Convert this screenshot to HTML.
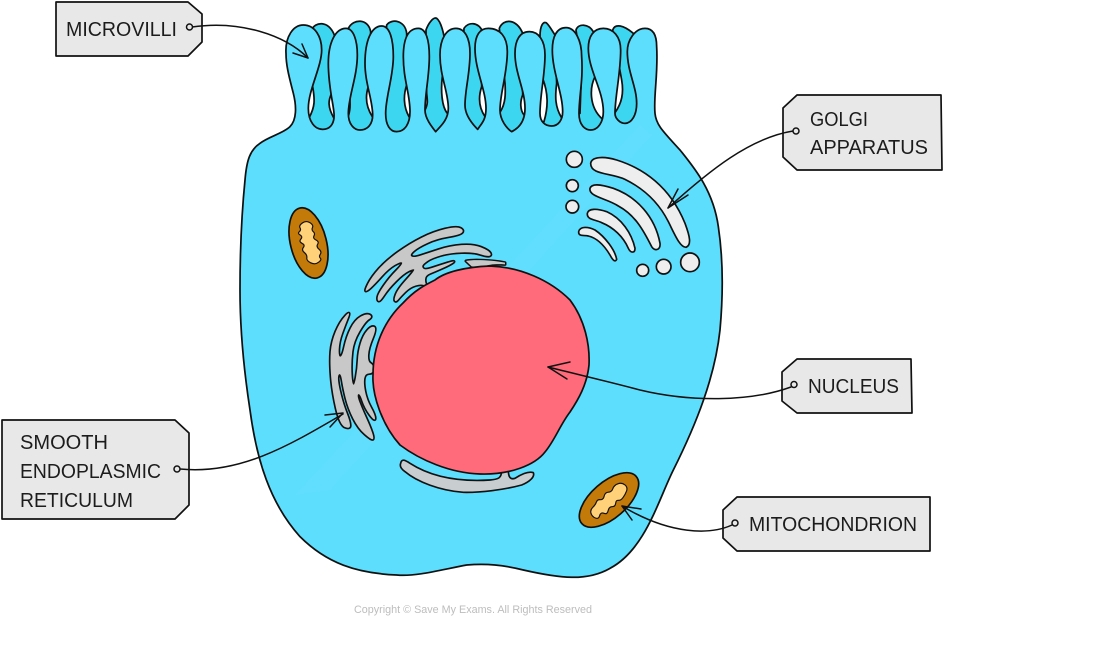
<!DOCTYPE html>
<html>
<head>
<meta charset="utf-8">
<style>
html,body{margin:0;padding:0;background:#fff;width:1100px;height:646px;overflow:hidden}
svg{display:block}
.lbl{font-family:"Liberation Sans",sans-serif;font-size:20px;fill:#1c1c1c}
.tag{fill:#e8e8e8;stroke:#111;stroke-width:1.7;stroke-linejoin:round}
.ln{fill:none;stroke:#111;stroke-width:1.5;stroke-linecap:round;stroke-linejoin:round}
.dot{fill:#e8e8e8;stroke:#111;stroke-width:1.5}
</style>
</head>
<body>
<svg width="1100" height="646" viewBox="0 0 1100 646" xmlns="http://www.w3.org/2000/svg">
<rect width="1100" height="646" fill="#fff"/>

<!-- microvilli dark + body -->
<g transform="translate(240,0) scale(.33333)" stroke="#111" stroke-width="5.2" stroke-linejoin="round">
  <g fill="#3dd6f0">
    <path d="M215,90 C225,65 265,60 283,105 L275,280 C265,300 262,320 282,355 L300,365 L300,420 L190,420 L190,365 L208,352 C225,320 225,300 218,260 Z"/>
    <path d="M325,85 C340,55 385,55 392,95 L385,260 C375,290 378,320 397,350 L415,360 L415,420 L305,420 L305,360 L326,345 C332,325 330,315 330,300 Z"/>
    <path d="M440,75 C455,55 495,60 500,100 L500,255 C490,285 490,320 507,350 L525,360 L525,420 L420,420 L420,340 Z"/>
    <path d="M558,90 C565,70 580,50 590,55 C603,65 612,100 615,130 L607,230 C602,270 605,320 622,340 L640,350 L640,420 L535,420 L535,340 L555,330 C565,310 562,300 560,280 Z"/>
    <path d="M672,85 C685,65 715,65 728,95 L725,260 C715,290 715,320 735,350 L755,360 L755,420 L660,420 L660,310 Z"/>
    <path d="M778,85 C790,55 830,55 848,100 L848,285 C840,305 840,330 852,345 L872,355 L872,420 L760,420 L760,340 L781,335 C797,310 797,280 795,250 Z"/>
    <path d="M900,110 C900,75 910,65 918,68 C925,72 935,90 945,105 L950,250 C945,290 945,320 964,352 L985,360 L985,420 L885,420 L885,365 L912,365 C925,320 925,280 908,235 Z"/>
    <path d="M1008,90 C1015,70 1045,70 1060,95 L1065,230 C1050,260 1045,320 1087,357 L1105,365 L1105,420 L1000,420 L1000,340 L1020,340 L1025,200 Z"/>
    <path d="M1118,90 C1125,70 1150,75 1180,100 L1200,320 L1200,400 L1105,400 L1105,345 L1125,338 C1145,310 1152,280 1145,240 Z"/>
  </g>
  <path fill="#5edefd" d="M138,160 C135,110 160,75 190,75 C225,75 245,110 245,150 C245,200 205,270 205,325 C205,365 225,388 248,388 C275,388 284,365 282,340 C280,310 265,260 265,190 C265,130 285,85 318,85 C340,85 352,120 352,165 C352,230 325,290 325,340 C325,370 340,390 360,390 C385,390 398,370 398,345 C398,300 375,250 375,190 C375,120 395,78 425,78 C450,78 460,120 460,170 C460,230 437,290 437,340 C437,375 450,395 470,395 C495,395 510,370 510,335 C510,280 490,240 490,170 C490,115 505,85 535,85 C558,85 568,120 568,170 C568,230 555,280 555,330 C555,355 575,380 587,395 C600,380 625,360 625,325 C625,275 600,230 600,165 C600,115 620,85 648,85 C675,85 690,115 690,160 C690,220 675,270 675,315 C675,345 695,370 713,388 C725,370 738,360 738,325 C738,270 705,210 705,145 C705,105 720,85 745,85 C780,85 802,110 802,155 C802,220 780,280 780,330 C780,360 800,385 815,395 C835,385 855,365 855,325 C855,270 825,220 825,160 C825,120 840,95 868,95 C895,95 915,120 915,165 C915,225 900,285 900,340 C900,365 915,378 935,378 C955,378 968,360 968,335 C968,280 937,215 937,150 C937,110 950,83 978,83 C1005,83 1025,120 1025,170 C1030,240 1017,290 1017,340 C1017,375 1035,390 1052,390 C1075,390 1090,365 1090,335 C1090,270 1045,210 1045,145 C1045,110 1060,85 1090,85 C1120,85 1142,110 1142,150 C1142,220 1125,290 1125,340 C1125,355 1140,370 1155,370 C1175,370 1190,345 1190,310 C1190,260 1162,215 1162,155 C1162,120 1185,85 1215,85 C1240,85 1250,105 1250,140 C1255,220 1240,290 1245,340 C1248,375 1270,395 1320,450 C1360,500 1420,570 1435,680 C1450,780 1450,880 1440,990 C1425,1130 1370,1270 1300,1410 C1255,1500 1215,1650 1110,1705 C1040,1745 960,1735 850,1710 C790,1695 740,1690 680,1695 C600,1710 530,1730 470,1725 C350,1720 260,1690 180,1610 C90,1510 50,1380 30,1230 C10,1100 0,980 0,870 C0,760 5,640 15,540 C20,480 30,450 60,430 C85,410 130,400 150,380 C170,360 170,320 160,280 C150,240 138,200 138,160 Z"/>
</g>

<!-- faint streak -->
<polygon points="295,495 640,125 652,135 330,490" fill="#fff" opacity=".02"/>

<!-- golgi -->
<g transform="translate(560,140) scale(.33333)" fill="#eeeeee" stroke="#111" stroke-width="5" stroke-linejoin="round">
  <path d="M92,70 C95,50 130,48 170,60 C250,85 330,140 375,250 C390,290 395,315 378,322 C360,322 345,285 325,245 C300,195 260,150 195,118 C150,98 92,105 92,70 Z"/>
  <path d="M90,145 C95,130 120,132 160,145 C230,170 285,230 300,310 C302,330 285,335 275,320 C250,270 225,225 175,198 C140,175 85,170 90,145 Z"/>
  <path d="M82,220 C85,205 110,205 140,215 C185,235 215,280 225,325 C225,340 212,340 205,325 C190,290 160,262 125,248 C105,238 80,240 82,220 Z"/>
  <path d="M56,275 C60,258 85,260 105,270 C135,290 165,330 170,358 C165,368 158,360 150,345 C135,320 115,295 85,288 C70,285 55,290 56,275 Z"/>
  <circle cx="43" cy="58" r="24"/>
  <circle cx="37" cy="137" r="18"/>
  <circle cx="37" cy="200" r="19"/>
  <circle cx="248" cy="391" r="18"/>
  <circle cx="311" cy="380" r="22"/>
  <circle cx="390" cy="367" r="28"/>
</g>

<!-- upper ER -->
<g transform="translate(360,222) scale(.33333)" fill="#c8c8c8" stroke="#111" stroke-width="10" stroke-linejoin="round" paint-order="stroke">
  <path d="M25,185 Q35,165 57.5,140 T115,90 T185,47.5 T255,21.5 T301,19 T306,31.5 T265,44 T202.5,62.5 T161.5,86.5 T154,103 T180,101.5 T235,83.5 T305,69.5 T362.5,76 T390,92.5 T387.5,101.5 T360,96.5 T305,91 T242.5,100 T202.5,116.5 T187.5,130 T190,140 T217.5,137.5 T264,122.5 T279,121.5 T247.5,138 T210,154 T195,172.5 T200,190 T195,190 T167.5,190 T135,210 T114,232.5 T105,236 T108.5,216 T140,172.5 T162.5,142.5 T145,147.5 T107.5,177.5 T72.5,219 T56,236.5 T53.5,225 T72.5,190 T110,145 T126,121.5 T103.5,129 T65,162.5 T32.5,196.5 T17.5,206.5 T25,185 Z"/>
  <path stroke-width="9" d="M318,117 C340,112 400,115 435,122 L435,127 C410,126 385,126 372,135 L335,133 Z"/>
</g>

<!-- left ER -->
<g transform="translate(325,305) scale(.33333)" fill="#c8c8c8" stroke="#111" stroke-width="10" stroke-linejoin="round" paint-order="stroke">
  <path d="M61.5,32.5 Q45,50 32.5,80 T17.5,140 T18.5,215 T33.5,310 T60,366 T75,361 T65,325 T47.5,270 T39,225 T43,207.5 T51.5,227.5 T62.5,280 T85,340 T120,387.5 T143.5,402.5 T141,382.5 T122.5,337.5 T102.5,290 T100,267.5 T112.5,287.5 T135,330 T150,340 T137.5,307.5 T120,260 T117.5,220 T132.5,205 T145,192.5 T136.5,175 T129,150 T142.5,100 T147.5,66 T127.5,76 T107.5,115 T99,165 T93,217.5 T84,237.5 T79,200 T81.5,140 T102.5,80 T131.5,42.5 T134,30 T107.5,35 T77.5,70 T58.5,125 T46,155 T41,132.5 T51,85 T69,37.5 T61.5,32.5 Z"/>
</g>

<!-- bottom ER -->
<g transform="translate(390,450) scale(.33333)" stroke="#111" stroke-width="5" stroke-linejoin="round">
  <path fill="#c8cdd0" d="M32,40 C35,25 45,30 60,40 C130,85 220,95 300,90 C325,88 335,85 335,60 L355,60 C355,80 360,90 375,85 C390,75 415,62 430,68 C435,80 420,95 395,105 C340,120 270,128 220,127 C150,122 80,95 45,65 C35,58 28,50 32,40 Z"/>
</g>

<!-- nucleus -->
<path fill="#ff6b7b" stroke="#111" stroke-width="1.7" d="M403,303 C415,290 425,285 435,280 C445,272 465,267 490,266 C520,267 550,280 570,300 C585,320 590,345 589,365 C587,385 578,400 570,412 C560,425 555,440 545,452 C535,465 510,475 480,474 C450,473 420,460 400,445 C382,425 372,395 373,375 C373,345 385,320 403,303 Z"/>

<!-- mitochondria -->
<ellipse cx="308.500" cy="243" rx="18" ry="36" transform="rotate(-14 308.500 243)" fill="#c47a08" stroke="#111" stroke-width="1.7"/>
<g transform="translate(270,195) scale(.33333)">
  <path fill="#ffd27a" stroke="#111" stroke-width="3.5" stroke-linejoin="round" d="M97,84 Q108,76 119.500,83 T127.500,97.500 T130,110 T132,122.500 T138,135 T143,147.500 T147,162.500 T151,177.500 T151,189.500 T145.500,202 T122,203.500 T110.500,188.500 T103,172.500 T100,157.500 T96,145 T92.500,132.500 T90.500,120 T88,110 T90,98.500 T97,84 Z"/>
</g>
<ellipse cx="609" cy="500" rx="18" ry="36" transform="rotate(49 609 500)" fill="#c47a08" stroke="#111" stroke-width="1.7"/>
<g transform="translate(390,450) scale(.33333)">
  <path fill="#ffd27a" stroke="#111" stroke-width="3.5" stroke-linejoin="round" d="M608,172.500 Q616,165 619,156.500 T631,149 T642.500,138.500 T655,126.500 T668.500,116 T683.500,101.500 T704.500,104.500 T709.500,123.500 T698.500,143.500 T685,151 T677,160 T666.500,170 T654.500,182 T642,190 T629,197 T616,204 T603,190 T608,172.500 Z"/>
</g>

<!-- tags -->
<polygon class="tag" points="56,2 188,2 202,14 202,42 188,56 56,56"/>
<polygon class="tag" points="797,95 941,95 942,170 797,170 783,157 783,108"/>
<polygon class="tag" points="797,359 911,359 912,413 797,413 782,401 782,372"/>
<polygon class="tag" points="737,497 930,497 930,551 737,551 723,538 723,510"/>
<polygon class="tag" points="2,420 175,420 189,433 189,505 175,519 2,519"/>

<!-- labels -->
<text class="lbl" x="66" y="36" textLength="111" lengthAdjust="spacingAndGlyphs">MICROVILLI</text>
<text class="lbl" x="810" y="126" textLength="58" lengthAdjust="spacingAndGlyphs">GOLGI</text>
<text class="lbl" x="810" y="154" textLength="118" lengthAdjust="spacingAndGlyphs">APPARATUS</text>
<text class="lbl" x="808" y="393" textLength="91" lengthAdjust="spacingAndGlyphs">NUCLEUS</text>
<text class="lbl" x="749" y="531" textLength="168" lengthAdjust="spacingAndGlyphs">MITOCHONDRION</text>
<text class="lbl" x="20" y="449" textLength="88" lengthAdjust="spacingAndGlyphs">SMOOTH</text>
<text class="lbl" x="20" y="478" textLength="141" lengthAdjust="spacingAndGlyphs">ENDOPLASMIC</text>
<text class="lbl" x="20" y="507" textLength="113" lengthAdjust="spacingAndGlyphs">RETICULUM</text>

<!-- connectors -->
<path class="ln" d="M192,27 C240,20 285,35 308,58"/>
<path class="ln" d="M293,53 L308,58 L302,44"/>
<circle class="dot" cx="189.500" cy="27" r="3"/>

<path class="ln" d="M793,131 C750,138 710,170 668,208"/>
<path class="ln" d="M678,189 L668,208 L688,195"/>
<circle class="dot" cx="796" cy="131" r="3"/>

<path class="ln" d="M791,387 C750,402 690,402 640,390 C610,382 580,375 548,367"/>
<path class="ln" d="M570,362 L548,367 L567,379"/>
<circle class="dot" cx="794" cy="384.500" r="3"/>

<path class="ln" d="M732,525 C710,535 670,535 622,506"/>
<path class="ln" d="M641,509 L622,506 L632,520"/>
<circle class="dot" cx="735" cy="523" r="3"/>

<path class="ln" d="M180,469 C240,475 290,445 343,414"/>
<path class="ln" d="M325,415 L343,413 L330,427"/>
<circle class="dot" cx="177" cy="469" r="3"/>

<text x="354" y="613" font-family="Liberation Sans, sans-serif" font-size="11" fill="#bdbdbd" textLength="238" lengthAdjust="spacingAndGlyphs">Copyright © Save My Exams. All Rights Reserved</text>
</svg>
</body>
</html>
